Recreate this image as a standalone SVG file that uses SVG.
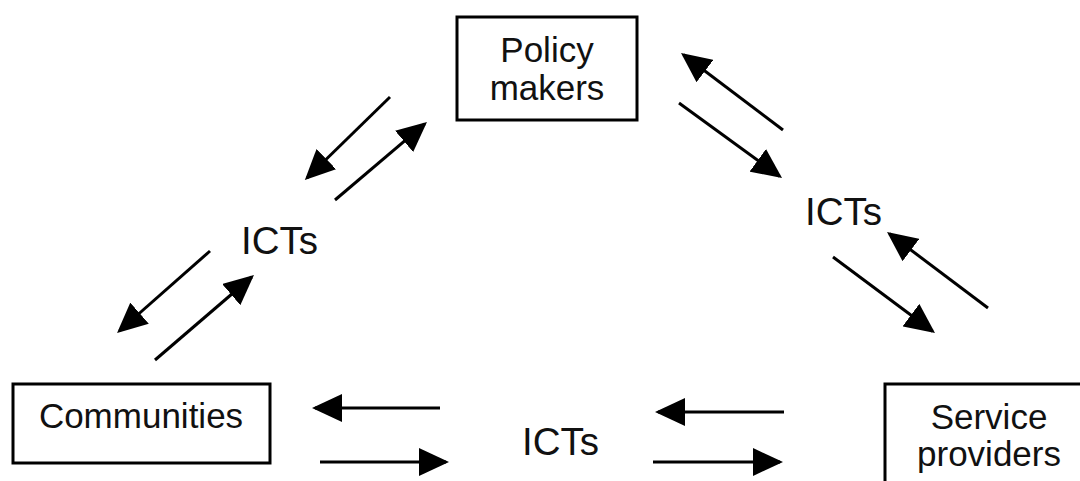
<svg xmlns="http://www.w3.org/2000/svg" width="1080" height="481" viewBox="0 0 1080 481">
<style>
.box{fill:#fff;stroke:#000;stroke-width:3}
.t{font-family:"Liberation Sans",Arial,sans-serif;font-size:35px;fill:#111;text-anchor:middle}
.ict{font-family:"Liberation Sans",Arial,sans-serif;font-size:38.5px;fill:#111}
.a{stroke:#000;stroke-width:3;fill:none;marker-end:url(#ah)}
</style>
<defs>
<marker id="ah" markerUnits="userSpaceOnUse" markerWidth="30" markerHeight="28" refX="27" refY="14" orient="auto">
<path d="M0,0 L30,14 L0,28 z" fill="#000"/>
</marker>
</defs>
<rect width="1080" height="481" fill="#fff"/>
<g id="policy-makers">
<rect class="box" x="457" y="17" width="180" height="103"/>
<text class="t" x="547" y="62">Policy</text>
<text class="t" x="547" y="100">makers</text>
</g>
<g id="communities">
<rect class="box" x="13" y="384" width="257" height="79"/>
<text class="t" x="141" y="428">Communities</text>
</g>
<g id="service-providers">
<rect class="box" x="885" y="384" width="210" height="110"/>
<text class="t" x="989" y="429">Service</text>
<text class="t" x="989" y="466">providers</text>
</g>
<g id="labels">
<text class="ict" x="241" y="254">ICTs</text>
<text class="ict" x="805" y="225">ICTs</text>
<text class="ict" x="522" y="455">ICTs</text>
</g>
<g id="connectors">
<line class="a" x1="390" y1="97" x2="307" y2="178"/>
<line class="a" x1="335" y1="200" x2="424.7" y2="123.9"/>
<line class="a" x1="210" y1="251" x2="119.3" y2="331"/>
<line class="a" x1="155" y1="360" x2="251.7" y2="277"/>
<line class="a" x1="440" y1="408" x2="315" y2="408"/>
<line class="a" x1="320" y1="462" x2="446" y2="462"/>
<line class="a" x1="784" y1="412" x2="658" y2="412"/>
<line class="a" x1="653" y1="462" x2="780" y2="462"/>
<line class="a" x1="783" y1="130" x2="683.4" y2="54.8"/>
<line class="a" x1="679" y1="103" x2="779.6" y2="176.2"/>
<line class="a" x1="988" y1="308" x2="889.4" y2="233.8"/>
<line class="a" x1="833" y1="257" x2="932.6" y2="331.2"/>
</g>
</svg>
